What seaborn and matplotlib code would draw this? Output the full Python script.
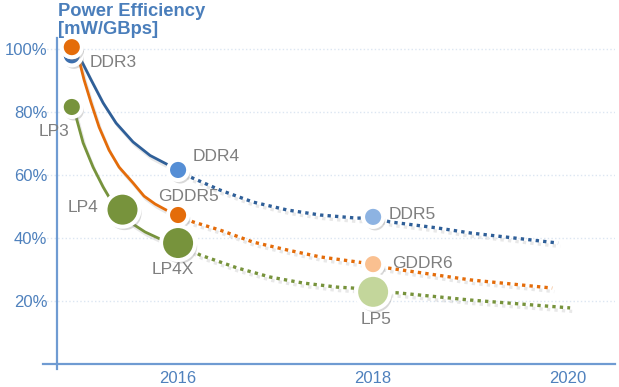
import matplotlib
matplotlib.use("Agg")
import matplotlib.pyplot as plt
import matplotlib.patheffects as pe
import pandas as pd
import seaborn as sns

# curves (year, % of DDR3 power)
ddr_years = [2014.913, 2015.005, 2015.108, 2015.231, 2015.364, 2015.538, 2015.713,
             2015.887, 2016.0,
             2016.123, 2016.431, 2016.769, 2017.118, 2017.456, 2017.836, 2018.0,
             2018.174, 2018.656, 2018.995, 2019.897]
ddr_vals = [98.1, 96.5, 90.2, 82.9, 76.5, 70.5, 66.2,
            63.4, 61.6,
            59.4, 55.2, 51.4, 48.9, 47.3, 46.3, 46.5,
            45.1, 43.2, 41.6, 38.4]
gddr_years = [2014.913, 2014.985, 2015.036, 2015.108, 2015.190, 2015.292, 2015.395,
              2015.538, 2015.651, 2015.764, 2015.877, 2016.0,
              2016.154, 2016.431, 2016.769, 2017.118, 2017.456, 2017.836, 2018.0,
              2018.144, 2018.995, 2019.836]
gddr_vals = [100.6, 96.5, 90.2, 82.9, 75.2, 67.9, 62.5,
             57.5, 53.3, 50.8, 48.9, 47.3,
             45.1, 42.5, 38.7, 36.2, 34.0, 32.4, 31.7,
             30.5, 26.7, 24.1]
lp_years = [2014.913, 2014.954, 2015.026, 2015.128, 2015.231, 2015.292, 2015.43,
            2015.538, 2015.662, 2015.815, 2016.0,
            2016.226, 2016.605, 2016.944, 2017.282, 2017.631, 2017.795, 2018.0,
            2018.246, 2018.995, 2020.02]
lp_vals = [81.6, 78.4, 70.2, 62.5, 56.2, 53.0, 49.0,
           44.4, 41.9, 39.7, 38.4,
           34.6, 30.5, 27.6, 25.7, 24.4, 24.1, 22.9,
           22.6, 20.3, 17.8]
split_year = 2016.0  # solid before, dotted after

# labelled points
point_names = ["DDR3", "", "LP3", "DDR4", "GDDR5", "LP4", "LP4X", "DDR5", "GDDR6", "LP5"]
point_years = [2014.91, 2014.91, 2014.91, 2016.0, 2016.0, 2015.43, 2016.0, 2018.0, 2018.0, 2018.0]
point_vals = [98.0, 100.6, 81.6, 61.6, 47.3, 49.0, 38.4, 46.7, 31.7, 22.9]
point_big = [False, False, False, False, False, True, True, False, False, True]

y_ticks = [20, 40, 60, 80, 100]
x_ticks = [2016, 2018, 2020]

line_colors = {"DDR": "#2f5f98", "GDDR": "#e46c0a", "LP": "#77933c"}
point_colors = ["#3d6fae", "#e46c0a", "#77933c", "#558ed5", "#e46c0a",
                "#77933c", "#77933c", "#8db3e2", "#fac090", "#c3d69b"]
# label offsets in pixels from the marker centre
label_pos = {"DDR3": (18, -7, "left"), "LP3": (-2, -25, "right"), "DDR4": (15, 13, "left"),
             "GDDR5": (10, 19, "center"), "LP4": (-24, 2, "right"), "LP4X": (-5, -26, "center"),
             "DDR5": (15, 2, "left"), "GDDR6": (19, 1, "left"), "LP5": (3, -28, "center")}

sns.set_style("white")
plt.rcParams["font.family"] = ["Liberation Sans", "DejaVu Sans"]

fig = plt.figure(figsize=(6.19, 3.87), dpi=100)
ax = fig.add_axes([0.0695, 0.0473, 0.924, 0.8545])

tick_blue = "#4f81bd"
shadow = [pe.SimpleLineShadow(offset=(1.5, -2.5), alpha=0.18, shadow_color="gray"), pe.Normal()]
mark_shadow = [pe.SimplePatchShadow(offset=(1.5, -2.5), alpha=0.3, shadow_rgbFace="gray"), pe.Normal()]

for fam, yrs, vals in [("DDR", ddr_years, ddr_vals), ("GDDR", gddr_years, gddr_vals),
                       ("LP", lp_years, lp_vals)]:
    df = pd.DataFrame({"year": yrs, "val": vals})
    solid = df[df.year <= split_year]
    dotted = df[df.year >= split_year]
    sns.lineplot(data=solid, x="year", y="val", color=line_colors[fam], lw=2.0, ax=ax,
                 sort=False, estimator=None, path_effects=shadow, zorder=2,
                 solid_joinstyle="round", solid_capstyle="round")
    sns.lineplot(data=dotted, x="year", y="val", color=line_colors[fam], lw=2.4, ax=ax,
                 sort=False, estimator=None, linestyle=(0, (1, 1.25)),
                 dash_capstyle="butt", dash_joinstyle="round", path_effects=shadow, zorder=2)

pts = pd.DataFrame({"name": point_names, "year": point_years, "val": point_vals,
                    "big": point_big, "color": point_colors})
for big, size in [(False, 210), (True, 600)]:
    sub = pts[pts.big == big]
    sns.scatterplot(data=sub, x="year", y="val", color=sub.color.tolist(), s=size,
                    edgecolor="white", linewidth=2.9, ax=ax, zorder=4, legend=False)
    ax.collections[-1].set_facecolors(sub.color.tolist())
    ax.collections[-1].set_path_effects(mark_shadow)

for _, row in pts.iterrows():
    if not row["name"]:
        continue
    dx, dy, ha = label_pos[row["name"]]
    ax.annotate(row["name"], (row["year"], row["val"]), xytext=(dx, dy),
                textcoords="offset pixels", ha=ha, va="center", fontsize=12.5,
                color="#7f7f7f", zorder=5)

# redraw the orange DDR3-era point on top of the blue one
first = pts.iloc[[1]]
sns.scatterplot(data=first, x="year", y="val", color=first.color.iloc[0], s=210,
                edgecolor="white", linewidth=2.9, ax=ax, zorder=6, legend=False)
ax.collections[-1].set_path_effects(mark_shadow)

ax.set_xlim(2014.615, 2020.48)
ax.set_ylim(-1.5, 103.5)
ax.spines["left"].set_position(("data", 2014.76))
ax.spines["bottom"].set_position(("data", 0))
for s in ["top", "right"]:
    ax.spines[s].set_visible(False)
for s in ["left", "bottom"]:
    ax.spines[s].set_color("#6f9bd2")
    ax.spines[s].set_linewidth(1.6)

ax.set_yticks(y_ticks)
ax.set_yticklabels([f"{v}%" for v in y_ticks])
ax.set_xticks(x_ticks)
ax.set_xticklabels([str(v) for v in x_ticks])
ax.tick_params(axis="both", length=0, labelsize=12, labelcolor=tick_blue)
ax.tick_params(axis="y", pad=7)
ax.tick_params(axis="x", pad=5)
ax.set_xlabel("")
ax.set_ylabel("")
ax.grid(axis="y", color="#dce6f2", linestyle=":", linewidth=1)
ax.grid(axis="x", visible=False)
ax.set_axisbelow(True)

fig.text(58 / 619, 0.992, "Power Efficiency\n[mW/GBps]", ha="left", va="top",
         fontsize=13.2, fontweight="bold", color="#4a7ebb", linespacing=1.1)

fig.savefig("out.png", dpi=100)
